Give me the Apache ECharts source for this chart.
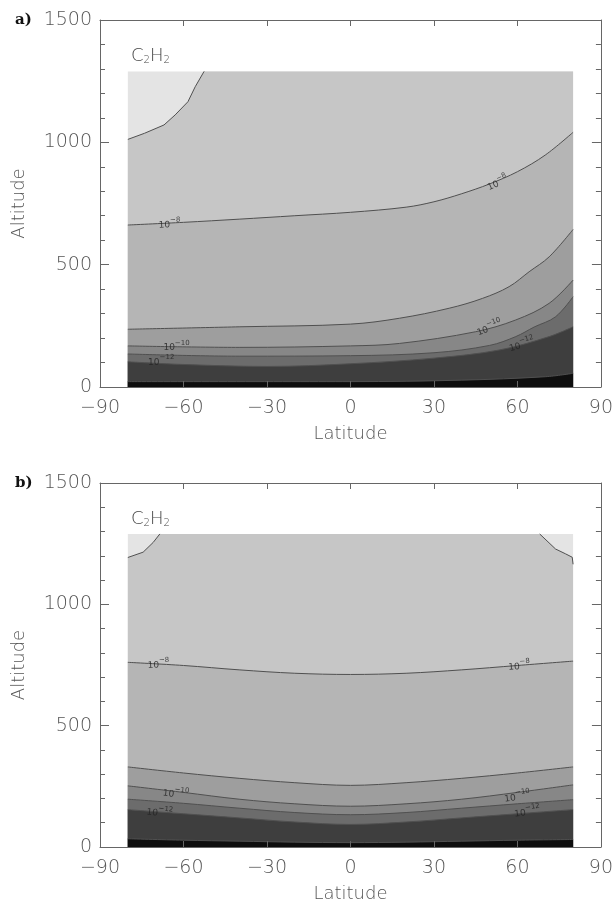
<!DOCTYPE html>
<html><head><meta charset="utf-8">
<script src="https://cdn.jsdelivr.net/npm/echarts@6/dist/echarts.min.js"></script>
<style>html,body{margin:0;padding:0;background:#fff}#c{width:616px;height:904px}</style>
</head><body><div id="c"></div>
<script>
// ---------- data ----------
const latTicks = [-90, -60, -30, 0, 30, 60, 90];
const altTicks = [0, 500, 1000, 1500];
const dataLat = [-80, 80];
const dataTop = 1290;

// panel a contours (latitude, altitude)
const a_c7_lat  = [-80, -74, -67, -63, -58.4, -55.8, -52.6];
const a_c7_alt  = [1012, 1037, 1071, 1112, 1166, 1227, 1290];
const a_c8_lat  = [-80, -60, -40, -20, 0, 20, 30, 40, 50, 60, 70, 80];
const a_c8_alt  = [662, 673, 686, 700, 714, 735, 757, 790, 830, 880, 948, 1041];
const a_c9_lat  = [-80, -40, 0, 17.6, 35.5, 47.4, 57, 64.2, 71.4, 80];
const a_c9_alt  = [236, 246, 257, 281, 322, 362, 410, 471, 532, 644];
const a_c10_lat = [-80, -40, 0, 17.6, 45, 59.4, 71.4, 80];
const a_c10_alt = [168, 162, 168, 178, 226, 274, 342, 437];
const a_c11_lat = [-80, -40, 0, 30, 50, 59.4, 66, 73.7, 80];
const a_c11_alt = [135, 126, 128, 140, 170, 206, 245, 287, 369];
const a_c12_lat = [-80, -60, -30, 0, 30, 53.4, 71.4, 80];
const a_c12_alt = [103, 92, 84, 95, 118, 151, 206, 246];
const a_c13_lat = [-80, 0, 40, 70, 80];
const a_c13_alt = [22, 22, 28, 42, 56];

// panel b contours
const b_c7L_lat = [-80, -74.5, -70.9, -68.5];
const b_c7L_alt = [1193, 1215, 1255, 1290];
const b_c7R_lat = [68, 73.7, 77.3, 79.7, 80];
const b_c7R_alt = [1290, 1228, 1208, 1194, 1165];
const b_lat     = [-80, -60, -40, -20, 0, 20, 40, 60, 80];
const b_c8_alt  = [761, 748, 730, 716, 711, 716, 730, 748, 766];
const b_c9_alt  = [330, 305, 283, 265, 254, 265, 283, 305, 330];
const b_c10_alt = [252, 225, 197, 178, 168, 178, 197, 225, 256];
const b_c11_alt = [197, 180, 160, 142, 133, 142, 160, 178, 195];
const b_c12_alt = [154, 137, 120, 103, 93, 103, 120, 137, 154];
const b_c13_alt = [34, 28, 24, 20, 18, 20, 24, 28, 31];

// contour labels: [lat, alt, exponent, rotation]
const a_labels = [[-65, 670, '−8', 2], [52.7, 838, '−8', 24], [-62.5, 168, '−10', 0],
                  [-68, 108, '−12', 0], [49.8, 246, '−10', 20], [61.5, 178, '−12', 16]];
const b_labels = [[-69, 757, '−8', 2], [60.6, 751, '−8', 4], [-62.7, 224, '−10', -6],
                  [-68.5, 146, '−12', -6], [59.9, 212, '−10', 8], [63.5, 150, '−12', 8]];

// ---------- styles ----------
const bandTop = '#e4e4e4';
const bands = ['#c6c6c6', '#b5b5b5', '#9e9e9e', '#878787', '#6c6c6c', '#3e3e3e', '#0e0e0e'];
const lineCol = '#505050';
const axisCol = '#666';
const fontMain = 'DejaVu Sans';

const zip = (xs, ys) => xs.map((x, i) => [x, ys[i]]);

function panelSeries(xi, yi, c7fill, c7lines, contours, labels) {
  const s = [];
  s.push({type: 'line', xAxisIndex: xi, yAxisIndex: yi, data: [[dataLat[0], dataTop], [dataLat[1], dataTop]],
    symbol: 'none', lineStyle: {width: 0}, areaStyle: {color: bandTop, opacity: 1}, silent: true});
  s.push({type: 'line', xAxisIndex: xi, yAxisIndex: yi, data: c7fill,
    symbol: 'none', lineStyle: {width: 0}, areaStyle: {color: bands[0], opacity: 1}, silent: true});
  c7lines.forEach(d => s.push({type: 'line', xAxisIndex: xi, yAxisIndex: yi, data: d,
    symbol: 'none', lineStyle: {width: 1, color: lineCol}, silent: true}));
  contours.forEach((d, i) => s.push({type: 'line', xAxisIndex: xi, yAxisIndex: yi, data: d,
    symbol: 'none', smooth: 0.35, lineStyle: {width: 1, color: lineCol},
    areaStyle: {color: bands[i + 1], opacity: 1}, silent: true}));
  s.push({type: 'scatter', xAxisIndex: xi, yAxisIndex: yi, symbolSize: 0, silent: true, z: 5,
    data: labels.map(l => ({value: [l[0], l[1]], label: {rotate: l[3], formatter: '{b|10}{s|' + l[2] + '}'}})),
    label: {show: true, position: 'inside', color: '#222',
      rich: {b: {fontSize: 9, fontFamily: fontMain, color: '#222', lineHeight: 13, verticalAlign: 'bottom'},
             s: {fontSize: 7, fontFamily: fontMain, color: '#222', lineHeight: 13, verticalAlign: 'top'}}}});
  return s;
}

const fillA = zip(a_c7_lat, a_c7_alt).concat([[dataLat[1], dataTop]]);
const fillB = zip(b_c7L_lat, b_c7L_alt).concat(zip(b_c7R_lat, b_c7R_alt));

const seriesA = panelSeries(0, 0, fillA, [zip(a_c7_lat, a_c7_alt)],
  [zip(a_c8_lat, a_c8_alt), zip(a_c9_lat, a_c9_alt), zip(a_c10_lat, a_c10_alt),
   zip(a_c11_lat, a_c11_alt), zip(a_c12_lat, a_c12_alt), zip(a_c13_lat, a_c13_alt)], a_labels);
const seriesB = panelSeries(2, 2, fillB, [zip(b_c7L_lat, b_c7L_alt), zip(b_c7R_lat, b_c7R_alt)],
  [b_c8_alt, b_c9_alt, b_c10_alt, b_c11_alt, b_c12_alt, b_c13_alt].map(a => zip(b_lat, a)), b_labels);

// ---------- axes ----------
const lblStyle = {color: '#555', fontSize: 19, fontFamily: fontMain, fontWeight: 200};
function xAx(grid, pos, labels) {
  return {type: 'value', gridIndex: grid, position: pos, min: latTicks[0], max: latTicks[latTicks.length - 1],
    interval: 30, z: 6,
    axisLine: {show: true, onZero: false, lineStyle: {color: axisCol, width: 1}},
    axisTick: {show: true, inside: true, length: 6, lineStyle: {color: axisCol}},
    splitLine: {show: false},
    axisLabel: labels ? Object.assign({show: true, margin: 12, showMinLabel: true, showMaxLabel: true,
      formatter: v => String(v).replace('-', '−')}, lblStyle) : {show: false},
    name: labels ? 'Latitude' : '', nameLocation: 'middle', nameGap: 38,
    nameTextStyle: {color: '#555', fontSize: 18, fontFamily: fontMain, fontWeight: 200, verticalAlign: 'top'}};
}
function yAx(grid, pos, labels) {
  return {type: 'value', gridIndex: grid, position: pos, min: altTicks[0], max: altTicks[altTicks.length - 1],
    interval: 500, z: 6,
    axisLine: {show: true, onZero: false, lineStyle: {color: axisCol, width: 1}},
    axisTick: {show: true, inside: true, length: 9, lineStyle: {color: axisCol}},
    minorTick: {show: true, splitNumber: 5, length: 5, lineStyle: {color: axisCol}},
    splitLine: {show: false}, minorSplitLine: {show: false},
    axisLabel: labels ? Object.assign({show: true, margin: 8, formatter: v => String(v)}, lblStyle) : {show: false},
    name: labels ? 'Altitude' : '', nameLocation: 'middle', nameGap: 72, nameRotate: 90,
    nameTextStyle: {color: '#555', fontSize: 18, fontFamily: fontMain, fontWeight: 200}};
}

const titleRich = {s: {fontSize: 10, fontFamily: fontMain, color: '#444', padding: [8, 0, 0, 0]}};
const option = {
  animation: false,
  backgroundColor: '#fff',
  title: [
    {text: 'a)', left: 10, top: 8, textStyle: {fontFamily: 'DejaVu Serif', fontWeight: 'bold', fontSize: 15, color: '#111'}},
    {text: 'b)', left: 10, top: 471, textStyle: {fontFamily: 'DejaVu Serif', fontWeight: 'bold', fontSize: 15, color: '#111'}},
    {text: 'C{s|2}H{s|2}', left: 126, top: 42, textStyle: {fontFamily: fontMain, fontWeight: 200, fontSize: 18, color: '#444', rich: titleRich}},
    {text: 'C{s|2}H{s|2}', left: 126, top: 505, textStyle: {fontFamily: fontMain, fontWeight: 200, fontSize: 18, color: '#444', rich: titleRich}}
  ],
  grid: [
    {left: 100, top: 20, width: 502, height: 367, containLabel: false},
    {left: 100, top: 483, width: 501, height: 368, containLabel: false}
  ],
  xAxis: [xAx(0, 'bottom', true), xAx(0, 'top', false), xAx(1, 'bottom', true), xAx(1, 'top', false)],
  yAxis: [yAx(0, 'left', true), yAx(0, 'right', false), yAx(1, 'left', true), yAx(1, 'right', false)],
  series: seriesA.concat(seriesB)
};
const chart = echarts.init(document.getElementById('c'), null, {renderer: 'canvas'});
chart.setOption(option);
</script></body></html>
